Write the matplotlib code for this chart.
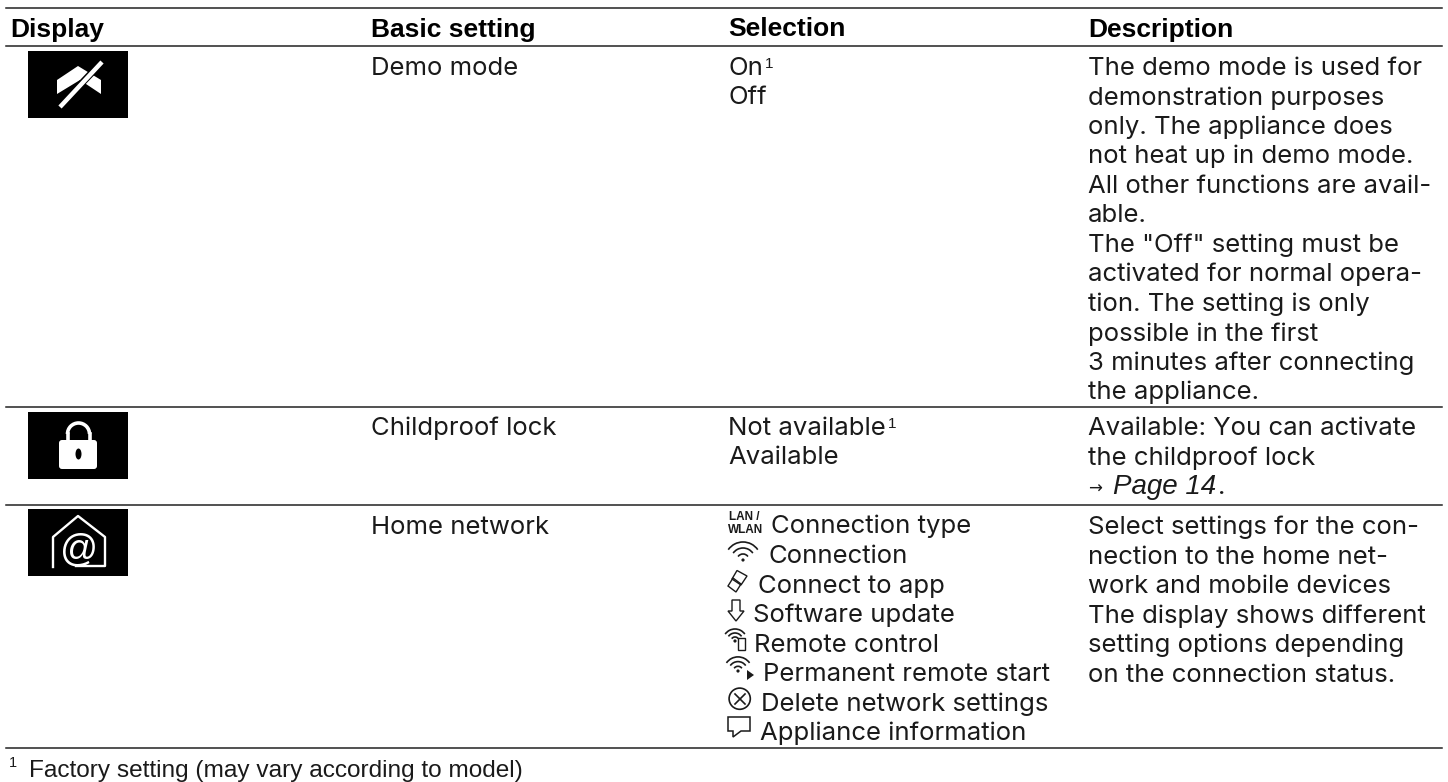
import matplotlib
matplotlib.use('Agg')
import matplotlib.pyplot as plt
from matplotlib.patches import Rectangle, Polygon, Circle, FancyBboxPatch, Arc, Ellipse

plt.rcParams['font.family'] = ['Inter', 'Liberation Sans', 'DejaVu Sans']

# table content
headers = ['Display', 'Basic setting', 'Selection', 'Description']
settings = ['Demo mode', 'Childproof lock', 'Home network']
demo_sel = ['On', 'Off']
lock_sel = ['Not available', 'Available']
net_sel = ['Connection type', 'Connection', 'Connect to app', 'Software update', 'Remote control',
           'Permanent remote start', 'Delete network settings', 'Appliance information']
demo_desc = ['The demo mode is used for', 'demonstration purposes', 'only. The appliance does',
             'not heat up in demo mode.', 'All other functions are avail-', 'able.',
             'The "Off" setting must be', 'activated for normal opera-', 'tion. The setting is only',
             'possible in the first', '3 minutes after connecting', 'the appliance.']
lock_desc = ['Available: You can activate', 'the childproof lock']
net_desc = ['Select settings for the con-', 'nection to the home net-', 'work and mobile devices',
            'The display shows different', 'setting options depending', 'on the connection status.']
footnote = 'Factory setting (may vary according to model)'

fig = plt.figure(figsize=(14.48, 7.82), dpi=100)
ax = fig.add_axes([0, 0, 1, 1])
ax.set_xlim(0, 1448)
ax.set_ylim(782, 0)
ax.axis('off')

FS = 18.5
TC = '#1a1a1a'
LH = 29.5
X = [10, 371, 728, 1088]
LIB = ['Liberation Sans']


def lines(x, y, items):
    for i, s in enumerate(items):
        ax.text(x, y + i * LH, s, fontsize=FS, color=TC, va='baseline')


for y in [8, 46, 407, 505, 748]:
    ax.plot([6, 1442], [y, y], color='#222222', lw=1.1)

for x, s in zip(X, headers):
    ax.text(x, 36.5, s, fontsize=19, fontweight='bold', family=LIB, color='black', va='baseline')

lines(X[1], 75, settings[:1])
lines(X[1], 435, settings[1:2])
lines(X[1], 534, settings[2:])

lines(X[2], 75, demo_sel)
lines(X[2], 435, lock_sel)
# footnote marks
ax.text(765, 68, '1', fontsize=11, color=TC, va='baseline', family=LIB)
ax.text(888, 428, '1', fontsize=11, color=TC, va='baseline', family=LIB)

net_x = [771, 768, 758, 753, 754, 763, 761, 760]
for i, s in enumerate(net_sel):
    ax.text(net_x[i], 533.5 + i * LH, s, fontsize=FS, color=TC, va='baseline')

lines(X[3], 75, demo_desc)
lines(X[3], 435, lock_desc)
ax.text(X[3], 494, '\u2192', fontsize=12, color=TC, va='baseline', family=['DejaVu Sans'])
ax.text(1113, 494, 'Page 14', fontsize=20, fontstyle='italic', family=LIB, color=TC, va='baseline')
ax.text(1218, 494, '.', fontsize=FS, color=TC, va='baseline')
lines(X[3], 534, net_desc)

ax.text(9, 767, '1', fontsize=10.5, color=TC, va='baseline', family=LIB)
ax.text(29, 777, footnote, fontsize=17.6, color=TC, va='baseline', family=LIB)

# icon tiles
for top in [51, 412, 509]:
    ax.add_patch(Rectangle((28, top), 100, 67, fc='black', ec='none'))

# demo mode icon
ax.add_patch(Polygon([(57, 80), (78, 66), (101, 80), (101, 94), (80, 80), (57, 94)], fc='white', ec='none'))
ax.plot([59, 102], [107, 62], color='black', lw=5, solid_capstyle='butt')
ax.plot([60, 102], [107, 62], color='white', lw=3.2, solid_capstyle='butt')

# lock icon
ax.add_patch(FancyBboxPatch((59, 440), 38, 29, boxstyle='round,pad=0,rounding_size=3', fc='white', ec='none'))
ax.add_patch(Arc((78.5, 434), 22, 22, theta1=180, theta2=360, color='white', lw=2.6))
ax.plot([67.5, 67.5], [434, 441], color='white', lw=2.6)
ax.plot([89.5, 89.5], [434, 441], color='white', lw=2.6)
ax.add_patch(Ellipse((78.5, 454), 6, 11, fc='black', ec='none'))

# home icon
ax.plot([53, 53, 78, 105, 105, 76], [567, 537, 516, 537, 566, 566], color='white', lw=1.7)
ax.text(79, 550, '@', fontsize=27, color='white', ha='center', va='center', family=LIB)

# small glyphs in the selection column
ax.text(729, 520, 'LAN /', fontsize=8.5, fontweight='bold', family=LIB, color=TC, va='baseline')
ax.text(728, 533, 'WLAN', fontsize=8.5, fontweight='bold', family=LIB, color=TC, va='baseline')


def wifi(cx, cy, step):
    ax.add_patch(Circle((cx, cy), 1.6, fc=TC, ec='none'))
    for k in range(1, 4):
        r = k * step
        ax.add_patch(Arc((cx, cy), 2 * r, 2 * r, theta1=215, theta2=325, color=TC, lw=1.2))


wifi(743, 560, 6)
ax.add_patch(Polygon([(737, 570.5), (747, 576), (741, 585), (732, 579)], fc='none', ec=TC, lw=1))
ax.add_patch(Polygon([(733, 578), (741, 584), (736, 592), (728, 586)], fc='none', ec=TC, lw=1))
ax.add_patch(Polygon([(732, 600), (740, 600), (740, 611), (744, 611), (736, 621), (728, 611), (732, 611)],
                     fc='none', ec=TC, lw=1))
wifi(735, 641, 4)
ax.add_patch(Rectangle((738, 638), 7, 12, fc='white', ec=TC, lw=1))
wifi(738, 671, 4.7)
ax.add_patch(Polygon([(747, 670), (754, 675), (747, 680)], fc=TC, ec='none'))
ax.add_patch(Circle((739.7, 698.7), 10.6, fc='none', ec=TC, lw=1.2))
ax.plot([735, 745], [694, 704], color=TC, lw=1.2)
ax.plot([745, 735], [694, 704], color=TC, lw=1.2)
ax.add_patch(Polygon([(728, 717), (750, 717), (750, 731), (741, 731), (733, 737), (733, 731), (728, 731)],
                     fc='none', ec=TC, lw=1.1))

fig.savefig('out.png', dpi=100)
